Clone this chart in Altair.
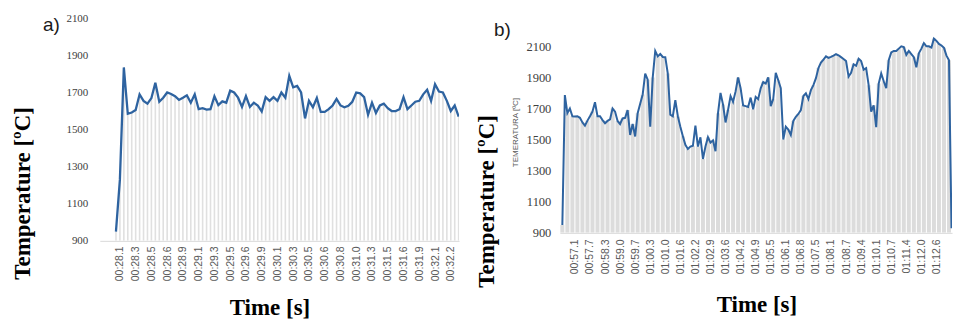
import json
import altair as alt
import pandas as pd

# ---------------- data ----------------
A_VALUES = [950, 1230, 1835, 1585, 1592, 1605, 1690, 1655, 1640, 1670,
            1752, 1650, 1672, 1700, 1692, 1680, 1660, 1672, 1685, 1645,
            1690, 1610, 1615, 1608, 1610, 1680, 1632, 1652, 1645, 1710,
            1700, 1672, 1622, 1680, 1622, 1645, 1630, 1598, 1675, 1655,
            1675, 1655, 1700, 1672, 1790, 1728, 1735, 1700, 1560, 1655,
            1620, 1670, 1595, 1595, 1610, 1630, 1665, 1630, 1620, 1628,
            1650, 1700, 1695, 1675, 1580, 1645, 1590, 1630, 1640, 1615,
            1600, 1600, 1610, 1675, 1610, 1630, 1650, 1655, 1690, 1715,
            1655, 1745, 1705, 1700, 1655, 1600, 1630, 1570]
A_TICK_LABELS = ["00:28.1", "00:28.3", "00:28.5", "00:28.6", "00:28.9", "00:29.1",
                 "00:29.3", "00:29.5", "00:29.6", "00:29.9", "00:30.1", "00:30.3",
                 "00:30.5", "00:30.6", "00:30.8", "00:31.0", "00:31.3", "00:31.5",
                 "00:31.6", "00:31.9", "00:32.1", "00:32.2"]
A_FIRST_LABEL_SAMPLE = 1
A_LABEL_EVERY = 4

B_VALUES = [950, 1786, 1670, 1700, 1650, 1648, 1650, 1640, 1610, 1590,
            1622, 1650, 1680, 1740, 1650, 1650, 1625, 1605, 1620, 1630,
            1700, 1680, 1620, 1600, 1636, 1640, 1690, 1530, 1600, 1520,
            1670, 1730, 1790, 1925, 1885, 1583, 1900, 2070, 2035, 2050,
            2031, 2030, 1925, 1660, 1650, 1754, 1650, 1583, 1522, 1466,
            1440, 1455, 1460, 1590, 1455, 1515, 1375, 1455, 1515, 1480,
            1495, 1425, 1670, 1800, 1725, 1610, 1690, 1780, 1743, 1810,
            1900, 1830, 1720, 1715, 1710, 1770, 1695, 1775, 1760, 1830,
            1870, 1860, 1900, 1715, 1760, 1930, 1882, 1830, 1500, 1583,
            1565, 1530, 1620, 1647, 1665, 1690, 1780, 1797, 1760, 1818,
            1850, 1895, 1960, 1995, 2015, 2035, 2025, 2032, 2040, 2049,
            2042, 2030, 2018, 2005, 1905, 1930, 1985, 1975, 2020, 2005,
            1950, 1960, 1850, 1680, 1720, 1580, 1860, 1925, 1875, 1830,
            2010, 2060, 2070, 2070, 2085, 2100, 2095, 2045, 2070, 2050,
            2030, 1965, 2055, 2085, 2120, 2100, 2100, 2092, 2150, 2135,
            2115, 2105, 2090, 2040, 2010, 930]
B_TICK_LABELS = ["00:57.1", "00:57.7", "00:58.3", "00:59.0", "00:59.7", "01:00.3",
                 "01:01.0", "01:01.6", "01:02.2", "01:02.9", "01:03.6", "01:04.2",
                 "01:04.9", "01:05.5", "01:06.1", "01:06.8", "01:07.5", "01:08.1",
                 "01:08.7", "01:09.4", "01:10.1", "01:10.7", "01:11.4", "01:12.0",
                 "01:12.6"]
B_FIRST_LABEL_SAMPLE = 5
B_LABEL_EVERY = 6

Y_TICKS = [900, 1100, 1300, 1500, 1700, 1900, 2100]

LINE_COLOR = "#2e63a0"
SERIF = "Liberation Serif"
SANS = "Liberation Sans"

df_a = pd.DataFrame({"i": list(range(len(A_VALUES))), "t": A_VALUES})
df_b = pd.DataFrame({"i": list(range(len(B_VALUES))), "t": B_VALUES})


def label_expr(labels, first, every):
    return f"{json.dumps(labels)}[round((datum.value - {first}) / {every})]"


# ---------------- panel a ----------------
a_idx = [A_FIRST_LABEL_SAMPLE + A_LABEL_EVERY * k for k in range(len(A_TICK_LABELS))]
xa = alt.X(
    "i:Q",
    scale=alt.Scale(domain=[-4.1, 87.1], nice=False, zero=False, padding=0),
    axis=alt.Axis(
        values=a_idx, labelExpr=label_expr(A_TICK_LABELS, A_FIRST_LABEL_SAMPLE, A_LABEL_EVERY),
        labelAngle=270, labelFont=SANS, labelFontSize=10.5, labelColor="#595959",
        labelPadding=5, ticks=False, grid=False, domainColor="#d9d9d9",
        title="Time [s]", titleFont=SERIF, titleFontSize=23, titleFontWeight="bold",
        titleColor="#000000", titleX=170, titleY=74, titleBaseline="alphabetic",
        titleAlign="center", labelOverlap=False,
    ),
)
ya = alt.Y(
    "t:Q",
    scale=alt.Scale(domain=[900, 2100], nice=False, zero=False),
    axis=alt.Axis(
        values=Y_TICKS, format="d", labelFont=SERIF, labelFontSize=11, labelColor="#404040",
        labelPadding=12, ticks=False, domain=False, grid=False,
        title="Temperature [ºC]", titleFont=SERIF, titleFontSize=23, titleFontWeight="bold",
        titleColor="#000000", titleX=-70, titleY=175, titleAngle=270,
        titleAlign="center", titleBaseline="alphabetic",
    ),
)
bars_a = alt.Chart(df_a).mark_bar(size=1.6, color="#e0e0e0", clip=True).encode(
    x=xa, y=ya, y2=alt.datum(900))
line_a = alt.Chart(df_a).mark_line(color=LINE_COLOR, strokeWidth=2.3, clip=True).encode(
    x=xa, y=ya)
panel_a = alt.layer(bars_a, line_a).properties(
    width=360, height=223,
    title=alt.TitleParams("a)", anchor="start", frame="group", orient="top",
                          font=SANS, fontSize=19, fontWeight="normal", color="#1a1a1a",
                          baseline="alphabetic", offset=0, dx=-57, dy=38),
)

# ---------------- panel b ----------------
b_idx = [B_FIRST_LABEL_SAMPLE + B_LABEL_EVERY * k for k in range(len(B_TICK_LABELS))]
b_scale_y = alt.Scale(domain=[900, 2280], nice=False, zero=False)
xb = alt.X(
    "i:Q",
    scale=alt.Scale(domain=[-1.0, 155.2], nice=False, zero=False, padding=0),
    axis=alt.Axis(
        values=b_idx, labelExpr=label_expr(B_TICK_LABELS, B_FIRST_LABEL_SAMPLE, B_LABEL_EVERY),
        labelAngle=270, labelFont=SANS, labelFontSize=10.5, labelColor="#595959",
        labelPadding=6, ticks=False, grid=False, domainColor="#d9d9d9",
        title="Time [s]", titleFont=SERIF, titleFontSize=23, titleFontWeight="bold",
        titleColor="#000000", titleX=197, titleY=79, titleBaseline="alphabetic",
        titleAlign="center", labelOverlap=False,
    ),
)
yb = alt.Y(
    "t:Q", scale=b_scale_y,
    axis=alt.Axis(
        values=Y_TICKS, format="d", labelFont=SERIF, labelFontSize=12.5, labelColor="#404040",
        labelPadding=9, ticks=False, domain=False, grid=False, orient="left",
        title="TEMERATURA [ºC]", titleFont=SANS, titleFontSize=8, titleFontWeight="normal",
        titleColor="#595959", titleX=-42, titleY=114, titleAngle=270,
        titleAlign="center", titleBaseline="alphabetic",
    ),
)
yb_big = alt.Y(
    "t:Q", scale=b_scale_y,
    axis=alt.Axis(
        labels=False, ticks=False, domain=False, grid=False, orient="left",
        title="Temperature [ºC]", titleFont=SERIF, titleFontSize=23, titleFontWeight="bold",
        titleColor="#000000", titleX=-66, titleY=183, titleAngle=270,
        titleAlign="center", titleBaseline="alphabetic",
    ),
)
bars_b = alt.Chart(df_b).transform_filter("datum.i % 2 == 0").mark_bar(
    size=4.0, color="#dcdcdc", clip=True).encode(x=xb, y=yb, y2=alt.datum(900))
line_b = alt.Chart(df_b).mark_line(color=LINE_COLOR, strokeWidth=2, clip=True).encode(
    x=xb, y=yb)
ghost_b = alt.Chart(df_b).mark_point(opacity=0).encode(x=xb, y=yb_big)
panel_b = alt.layer(alt.layer(bars_b, line_b), ghost_b).resolve_scale(
    y="independent").properties(
    width=393, height=215,
    title=alt.TitleParams("b)", anchor="start", frame="group", orient="top",
                          font=SANS, fontSize=19, fontWeight="normal", color="#1a1a1a",
                          baseline="alphabetic", offset=0, dx=-66, dy=37),
)

chart = alt.hconcat(panel_a, panel_b, spacing=101, bounds="flush").properties(
    padding={"left": 4, "top": 4, "right": 0, "bottom": 0}, background="white"
).configure_view(stroke=None)

chart.save("out.html", embed_options={"renderer": "svg", "actions": False})
